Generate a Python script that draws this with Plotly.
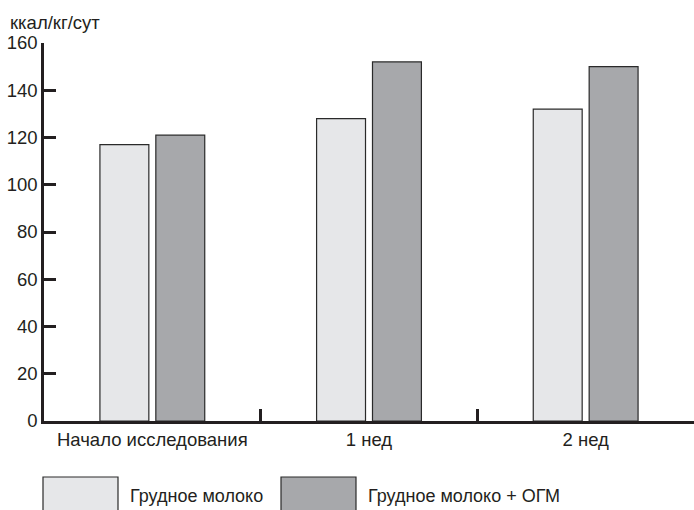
import plotly.graph_objects as go

categories = ["Начало исследования", "1 нед", "2 нед"]
series_names = ["Грудное молоко", "Грудное молоко + ОГМ"]
breast_milk = [117, 128, 132]
breast_milk_ogm = [121, 152, 150]
y_ticks = [0, 20, 40, 60, 80, 100, 120, 140, 160]
y_title = "ккал/кг/сут"

colors = ["#e6e7e9", "#a7a8ab"]
FONT = "Liberation Sans, Arial, sans-serif"
FS = 18.5

W, H = 694, 510
L, R, T, B = 44, 0, 43, 89
PW, PH = W - L - R, H - T - B


def px(x):
    return (x - L) / PW


def py(y):
    return (H - B - y) / PH


fig = go.Figure()
for name, vals, col in zip(series_names, [breast_milk, breast_milk_ogm], colors):
    fig.add_trace(go.Bar(
        x=categories, y=vals, name=name,
        marker=dict(color=col, line=dict(color="#2a2a2a", width=1.2)),
        showlegend=False,
    ))

fig.update_layout(
    width=W, height=H, autosize=False,
    margin=dict(l=L, r=R, t=T, b=B, pad=0),
    paper_bgcolor="white", plot_bgcolor="white",
    barmode="group", bargap=0.484, bargroupgap=0.125,
    font=dict(family=FONT, size=FS, color="#231f20"),
    xaxis=dict(
        range=[-0.5, 2.5], showline=True, linecolor="#231f20", linewidth=2.5,
        ticks="inside", tickson="boundaries", ticklen=12, tickwidth=2.5,
        tickcolor="#231f20", showgrid=False, zeroline=False, automargin=False,
        tickfont=dict(size=FS),
    ),
    yaxis=dict(
        range=[0, 160], tickvals=y_ticks, showline=True, linecolor="#231f20",
        linewidth=2.5, ticks="inside", ticklen=12, tickwidth=2.5,
        tickcolor="#231f20", showgrid=False, zeroline=False, automargin=False,
        tickfont=dict(size=FS),
    ),
)

fig.add_annotation(text=y_title, xref="paper", yref="paper", x=px(8), y=py(23),
                   xanchor="left", yanchor="middle", showarrow=False,
                   font=dict(size=FS))

# legend drawn as boxes + labels
legend_boxes = [(43, 118), (281, 356)]
text_x = [128, 366]
for (x0, x1), tx, name, col in zip(legend_boxes, text_x, series_names, colors):
    fig.add_shape(type="rect", xref="paper", yref="paper",
                  x0=px(x0), x1=px(x1), y0=py(514), y1=py(477),
                  fillcolor=col, line=dict(color="#2a2a2a", width=1.2))
    fig.add_annotation(text=name, xref="paper", yref="paper",
                       x=px(tx), y=py(496),
                       xanchor="left", yanchor="middle", showarrow=False,
                       font=dict(size=18))

fig.write_html(
    "out.html",
    config={"displayModeBar": False},
    post_script="document.body.style.margin='0';"
                "document.documentElement.style.overflow='hidden';",
)
